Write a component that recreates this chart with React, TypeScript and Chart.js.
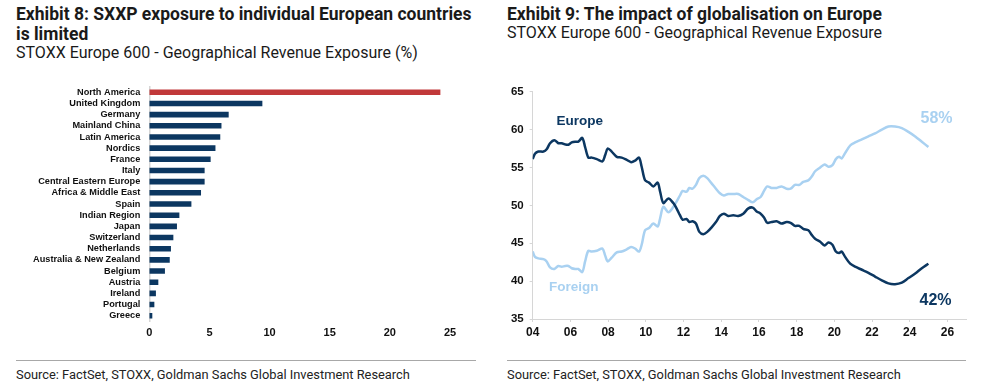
import React, { useEffect, useRef } from 'react';
import { Chart, registerables } from 'chart.js';

Chart.register(...registerables);

// ---------- Exhibit 8 data ----------
const countries = [
  'North America', 'United Kingdom', 'Germany', 'Mainland China', 'Latin America', 'Nordics',
  'France', 'Italy', 'Central Eastern Europe', 'Africa & Middle East', 'Spain', 'Indian Region',
  'Japan', 'Switzerland', 'Netherlands', 'Australia & New Zealand', 'Belgium', 'Austria',
  'Ireland', 'Portugal', 'Greece',
];
const exposure = [
  24.2, 9.4, 6.6, 6.0, 5.9, 5.5, 5.1, 4.6, 4.6, 4.3, 3.5, 2.5, 2.3, 2.0, 1.8, 1.7, 1.3, 0.75, 0.55, 0.42, 0.25,
];
const barTicks = [0, 5, 10, 15, 20, 25];

// ---------- Exhibit 9 data ----------
const years = [
  2004.0, 2004.12, 2004.3, 2004.57, 2004.74, 2004.92, 2005.15, 2005.36, 2005.54, 2005.72, 2005.89,
  2006.07, 2006.25, 2006.42, 2006.63, 2006.78, 2006.95, 2007.13, 2007.4, 2007.7, 2007.84, 2007.98,
  2008.19, 2008.46, 2008.72, 2008.99, 2009.22, 2009.43, 2009.64, 2009.78, 2009.96, 2010.17, 2010.4,
  2010.63, 2010.76, 2010.93, 2011.2, 2011.46, 2011.63, 2011.81, 2011.95, 2012.16, 2012.31, 2012.48,
  2012.66, 2012.84, 2013.05, 2013.26, 2013.49, 2013.72, 2013.93, 2014.14, 2014.37, 2014.64, 2014.9,
  2015.17, 2015.44, 2015.67, 2015.88, 2016.09, 2016.27, 2016.44, 2016.67, 2016.94, 2017.2, 2017.47,
  2017.68, 2017.91, 2018.14, 2018.35, 2018.62, 2018.8, 2018.98, 2019.25, 2019.48, 2019.69, 2019.9,
  2020.08, 2020.25, 2020.39, 2020.57, 2020.84, 2021.1, 2021.46, 2021.81, 2022.16, 2022.52, 2022.87,
  2023.22, 2023.58, 2023.93, 2024.29, 2024.64, 2024.99,
];
const europeShare = [
  56.1, 56.8, 57.1, 57.1, 57.4, 58.2, 58.6, 58.2, 58.2, 58.05, 58.0,
  58.3, 58.4, 58.4, 58.9, 57.7, 56.3, 56.3, 56.1, 55.8, 56.6, 57.5,
  57.1, 56.4, 56.3, 56.0, 55.7, 55.9, 56.3, 55.1, 53.3, 53.0, 52.5,
  53.0, 51.8, 50.3, 50.9, 50.3, 49.6, 48.7, 48.1, 48.2, 47.8, 47.9,
  47.6, 46.5, 46.2, 46.5, 47.1, 47.8, 48.6, 48.9, 48.6, 48.7, 48.6,
  48.9, 49.6, 49.7, 49.2, 48.9, 48.4, 47.7, 47.8, 47.9, 47.6, 47.8,
  47.7, 47.3, 47.3, 46.9, 46.7, 46.1, 45.6, 45.2, 44.7, 45.1, 44.8,
  43.9, 43.7, 43.9, 43.2, 42.3, 41.9, 41.5, 41.1, 40.6, 40.1, 39.7,
  39.6, 39.8, 40.4, 41.0, 41.7, 42.3,
];
const foreignShare = [
  43.9, 43.2, 43.0, 42.9, 42.6, 41.8, 41.6, 42.0, 41.9, 42.0, 42.0,
  41.7, 41.6, 41.6, 41.2, 42.6, 44.0, 43.9, 44.0, 44.3, 43.4, 42.6,
  43.1, 43.8, 43.9, 44.2, 44.5, 44.3, 43.9, 44.8, 46.7, 47.0, 47.6,
  47.2, 48.3, 49.8, 49.1, 49.8, 50.5, 51.3, 51.9, 51.8, 52.3, 52.2,
  52.7, 53.6, 53.9, 53.6, 52.9, 52.2, 51.6, 51.3, 51.5, 51.5, 51.5,
  51.1, 50.7, 50.4, 50.8, 51.1, 51.9, 52.5, 52.3, 52.3, 52.5, 52.2,
  52.2, 52.7, 52.7, 53.1, 53.3, 53.8, 54.5, 55.0, 55.4, 55.1, 55.3,
  56.1, 56.4, 56.2, 56.9, 57.9, 58.3, 58.7, 59.1, 59.5, 60.0, 60.4,
  60.4, 60.2, 59.7, 59.1, 58.4, 57.7,
];
const lineYTicks = [35, 40, 45, 50, 55, 60, 65];
const lineXTicks = [2004, 2006, 2008, 2010, 2012, 2014, 2016, 2018, 2020, 2022, 2024, 2026];
const lineXMax = 2027;

const NAVY = '#0c3761';
const RED = '#c1393a';
const LIGHT = '#a9d1f1';
const AXIS = '#d6d6d6';
const TICK_FONT = 'Liberation Sans, Arial, sans-serif';
const TITLE_FONT = 'Roboto, "Noto Sans", sans-serif';

const zeroPad = (s: any) => {
  s.paddingTop = 0;
  s.paddingBottom = 0;
  s.paddingLeft = 0;
  s.paddingRight = 0;
};

function BarChart() {
  const ref = useRef<HTMLCanvasElement | null>(null);
  useEffect(() => {
    if (!ref.current) return;
    const chart = new Chart(ref.current, {
      type: 'bar',
      data: {
        labels: countries,
        datasets: [
          {
            data: exposure,
            backgroundColor: countries.map((_, i) => (i === 0 ? RED : NAVY)),
            barPercentage: 0.5,
            categoryPercentage: 1,
          },
        ],
      },
      options: {
        indexAxis: 'y',
        animation: false,
        responsive: false,
        maintainAspectRatio: false,
        layout: { padding: { left: 0, right: 40, top: 6.7, bottom: 3.7 } },
        plugins: { legend: { display: false }, tooltip: { enabled: false } },
        scales: {
          x: {
            min: barTicks[0],
            max: barTicks[barTicks.length - 1],
            afterBuildTicks: (s: any) => { s.ticks = barTicks.map((v) => ({ value: v })); },
            ticks: {
              padding: 5,
              color: '#111',
              font: { family: TICK_FONT, size: 11, weight: 'bold' },
            },
            grid: { display: false, drawTicks: false },
            border: { display: false },
            afterFit: (s: any) => { zeroPad(s); s.height = 20; },
          },
          y: {
            ticks: {
              padding: 9,
              autoSkip: false,
              color: '#111',
              font: { family: TICK_FONT, size: 9.2, weight: 'bold' },
            },
            grid: { display: false, drawTicks: false },
            border: { display: true, color: AXIS, width: 1.5 },
            afterFit: (s: any) => { zeroPad(s); s.width = 149.3; },
          },
        },
      },
    } as any);
    return () => chart.destroy();
  }, []);
  return <canvas ref={ref} width={490} height={265} style={{ width: 490, height: 265, display: 'block' }} />;
}

function LineChart() {
  const ref = useRef<HTMLCanvasElement | null>(null);
  useEffect(() => {
    if (!ref.current) return;
    const chart = new Chart(ref.current, {
      type: 'line',
      data: {
        datasets: [
          {
            label: 'Europe',
            data: years.map((x, i) => ({ x, y: europeShare[i] })),
            borderColor: NAVY,
            borderWidth: 2.5,
            pointRadius: 0,
            tension: 0.3,
          },
          {
            label: 'Foreign',
            data: years.map((x, i) => ({ x, y: foreignShare[i] })),
            borderColor: LIGHT,
            borderWidth: 2.5,
            pointRadius: 0,
            tension: 0.3,
          },
        ],
      },
      options: {
        animation: false,
        responsive: false,
        maintainAspectRatio: false,
        layout: { padding: { left: 0, right: 17.7, top: 11.7, bottom: 4 } },
        plugins: { legend: { display: false }, tooltip: { enabled: false } },
        scales: {
          x: {
            type: 'linear',
            min: lineXTicks[0],
            max: lineXMax,
            afterBuildTicks: (s: any) => { s.ticks = lineXTicks.map((v) => ({ value: v })); },
            ticks: {
              padding: 3,
              autoSkip: false,
              maxRotation: 0,
              color: '#111',
              font: { family: TICK_FONT, size: 12, weight: 'bold' },
              callback: (v: any) => String(Number(v) % 100).padStart(2, '0'),
            },
            grid: { drawOnChartArea: false, tickLength: 3, color: AXIS },
            border: { color: AXIS, width: 1 },
            afterFit: (s: any) => { zeroPad(s); s.height = 22; },
          },
          y: {
            min: lineYTicks[0],
            max: lineYTicks[lineYTicks.length - 1],
            afterBuildTicks: (s: any) => { s.ticks = lineYTicks.map((v) => ({ value: v })); },
            ticks: {
              padding: 6,
              color: '#111',
              font: { family: TICK_FONT, size: 11.5, weight: 'bold' },
            },
            grid: { drawOnChartArea: false, tickLength: 3, color: AXIS },
            border: { color: AXIS, width: 1 },
            afterFit: (s: any) => { zeroPad(s); s.width = 37.7; },
          },
        },
      },
    } as any);
    return () => chart.destroy();
  }, []);
  return <canvas ref={ref} width={489} height={265} style={{ width: 489, height: 265, display: 'block' }} />;
}

const abs = (left: number, top: number, extra: React.CSSProperties = {}): React.CSSProperties => ({
  position: 'absolute',
  left,
  top,
  whiteSpace: 'nowrap',
  margin: 0,
  ...extra,
});

const titleStyle: React.CSSProperties = {
  fontFamily: TITLE_FONT,
  fontWeight: 'bold',
  fontSize: 17.5,
  lineHeight: '20px',
  color: '#1a1a1a',
};
const subStyle: React.CSSProperties = {
  fontFamily: TITLE_FONT,
  fontSize: 16,
  lineHeight: '20px',
  color: '#1a1a1a',
};
const sourceStyle: React.CSSProperties = {
  fontFamily: TITLE_FONT,
  fontSize: 12.85,
  lineHeight: '16px',
  color: '#222',
};
const annot = (color: string, size: number): React.CSSProperties => ({
  fontFamily: TICK_FONT,
  fontWeight: 'bold',
  fontSize: size,
  lineHeight: `${size}px`,
  color,
});

export default function App() {
  return (
    <div style={{ position: 'absolute', left: 0, top: 0, width: 984, height: 385, background: '#fff', overflow: 'hidden' }}>
      {/* Left panel */}
      <div style={abs(16, 3.5, titleStyle)}>Exhibit 8: SXXP exposure to individual European countries</div>
      <div style={abs(16, 23.5, titleStyle)}>is limited</div>
      <div style={abs(16, 43, subStyle)}>STOXX Europe 600 - Geographical Revenue Exposure (%)</div>
      <div style={abs(0, 80)}><BarChart /></div>
      <div style={abs(16, 360, { width: 460, height: 1.3, background: '#a8a8a8' })} />
      <div style={abs(16, 367, sourceStyle)}>Source: FactSet, STOXX, Goldman Sachs Global Investment Research</div>

      {/* Right panel */}
      <div style={abs(507, 3.5, titleStyle)}>Exhibit 9: The impact of globalisation on Europe</div>
      <div style={abs(507, 23, subStyle)}>STOXX Europe 600 - Geographical Revenue Exposure</div>
      <div style={abs(495, 80)}><LineChart /></div>
      <div style={abs(556.5, 114, annot(NAVY, 13.5))}>Europe</div>
      <div style={abs(549, 280, annot(LIGHT, 13.5))}>Foreign</div>
      <div style={abs(920.5, 109.5, annot(LIGHT, 16))}>58%</div>
      <div style={abs(919.5, 292, annot(NAVY, 16))}>42%</div>
      <div style={abs(507, 360, { width: 459, height: 1.3, background: '#a8a8a8' })} />
      <div style={abs(507, 367, sourceStyle)}>Source: FactSet, STOXX, Goldman Sachs Global Investment Research</div>
    </div>
  );
}
